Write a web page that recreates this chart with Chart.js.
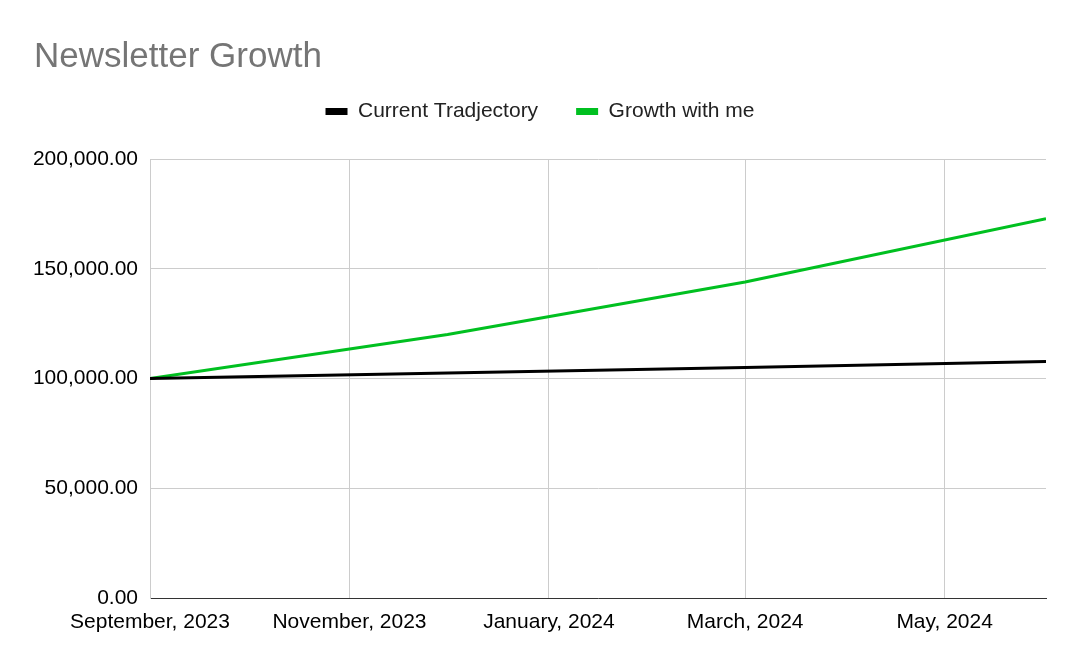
<!DOCTYPE html>
<html>
<head>
<meta charset="utf-8">
<script src="https://cdn.jsdelivr.net/npm/chart.js@4.4.1/dist/chart.umd.min.js"></script>
<style>
  html, body { margin: 0; padding: 0; background: #ffffff; }
  #wrap { width: 1080px; height: 668px; }
</style>
</head>
<body>
<div id="wrap"><canvas id="c" width="1080" height="668"></canvas></div>
<script>
// ---- data ----
const pointDates = ['2023-09-01', '2023-12-01', '2024-03-01', '2024-06-01'];
const currentTrajectory = [100000, 102500, 105062.5, 107689];
const growthWithMe = [100000, 120000, 144000, 172800];
const tickDates = ['2023-09-01', '2023-11-01', '2024-01-01', '2024-03-01', '2024-05-01'];
const tickLabels = ['September, 2023', 'November, 2023', 'January, 2024', 'March, 2024', 'May, 2024'];
const seriesNames = ['Current Tradjectory', 'Growth with me'];

// days since first date
const DAY = 86400000;
const t0 = Date.parse(pointDates[0] + 'T00:00:00Z');
const dayOf = d => Math.round((Date.parse(d + 'T00:00:00Z') - t0) / DAY);
const xs = pointDates.map(dayOf);
const tickXs = tickDates.map(dayOf);
const toPts = vals => vals.map((v, i) => ({ x: xs[i], y: v }));

const FONT = "'Liberation Sans', Arial, sans-serif";

new Chart(document.getElementById('c'), {
  type: 'line',
  data: {
    datasets: [
      {
        label: seriesNames[0],
        data: toPts(currentTrajectory),
        borderColor: '#000000',
        backgroundColor: '#000000',
        borderWidth: 3,
        pointRadius: 0,
        tension: 0
      },
      {
        label: seriesNames[1],
        data: toPts(growthWithMe),
        borderColor: '#00c020',
        backgroundColor: '#00c020',
        borderWidth: 3,
        pointRadius: 0,
        tension: 0
      }
    ]
  },
  options: {
    responsive: false,
    animation: false,
    devicePixelRatio: 1,
    layout: { padding: { left: 34, right: 34, top: 0, bottom: 0 } },
    plugins: {
      tooltip: { enabled: false },
      title: {
        display: true,
        text: 'Newsletter Growth',
        align: 'start',
        color: '#757575',
        font: { family: FONT, size: 35, weight: 'normal', lineHeight: 1 },
        padding: { top: 40, bottom: -12 }
      },
      subtitle: {
        display: true,
        text: ' ',
        weight: 500,
        font: { family: FONT, size: 1, lineHeight: 1 },
        padding: { top: 26, bottom: 0 }
      },
      legend: {
        display: true,
        position: 'top',
        align: 'center',
        labels: {
          color: '#222222',
          font: { family: FONT, size: 21 },
          boxWidth: 22,
          boxHeight: 7,
          padding: 38,
          generateLabels: (chart) =>
            Chart.defaults.plugins.legend.labels.generateLabels(chart).map(l => ({ ...l, lineWidth: 0 }))
        }
      }
    },
    scales: {
      x: {
        type: 'linear',
        min: 0,
        max: xs[xs.length - 1],
        afterBuildTicks: (scale) => { scale.ticks = tickXs.map(v => ({ value: v })); },
        afterFit: (scale) => { scale.height = 70; },
        ticks: {
          autoSkip: false,
          maxRotation: 0,
          padding: 12,
          color: '#000000',
          font: { family: FONT, size: 21 },
          callback: (v) => { const i = tickXs.indexOf(v); return i >= 0 ? tickLabels[i] : ''; }
        },
        grid: { color: '#cccccc', lineWidth: 1, drawTicks: false },
        border: { display: true, color: '#333333', width: 1 }
      },
      y: {
        min: 0,
        max: 200000,
        afterFit: (scale) => { scale.width = 116; },
        ticks: {
          stepSize: 50000,
          padding: 12,
          color: '#000000',
          font: { family: FONT, size: 21 },
          callback: (v) => v.toLocaleString('en-US', { minimumFractionDigits: 2, maximumFractionDigits: 2 })
        },
        grid: { color: '#cccccc', lineWidth: 1, drawTicks: false },
        border: { display: true, color: '#cccccc', width: 1 }
      }
    }
  }
});
</script>
</body>
</html>
